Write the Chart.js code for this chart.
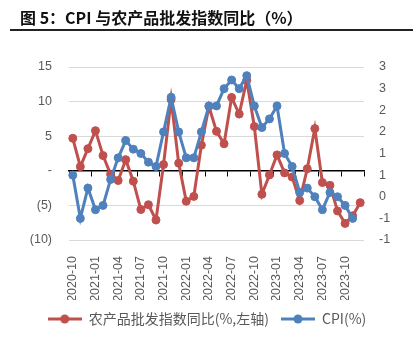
<!DOCTYPE html>
<html><head><meta charset="utf-8">
<script src="https://cdn.jsdelivr.net/npm/chart.js@4/dist/chart.umd.min.js"></script>
<style>
html,body{margin:0;padding:0;background:#fff;}
#wrap{position:relative;width:414px;height:352px;overflow:hidden;background:#fff;}
#title{position:absolute;left:20px;top:5px;font:bold 16px "Noto Sans CJK SC",sans-serif;color:#111;white-space:nowrap;}
#rule{position:absolute;left:10px;top:29px;width:403px;height:2px;background:#222;}
canvas{position:absolute;left:0;top:0;}
</style></head><body>
<div id="wrap"><canvas id="c" width="414" height="352"></canvas><div id="title">图 5：CPI 与农产品批发指数同比（%）</div><div id="rule"></div></div>
<script>
const categories = ['2020-10','2020-11','2020-12','2021-01','2021-02','2021-03','2021-04','2021-05','2021-06','2021-07','2021-08','2021-09','2021-10','2021-11','2021-12','2022-01','2022-02','2022-03','2022-04','2022-05','2022-06','2022-07','2022-08','2022-09','2022-10','2022-11','2022-12','2023-01','2023-02','2023-03','2023-04','2023-05','2023-06','2023-07','2023-08','2023-09','2023-10','2023-11','2023-12'];
const agriYoY = [4.7,0.6,3.2,5.8,2.2,-0.5,-1.4,1.6,-1.5,-5.6,-4.9,-7.1,0.9,10.3,1.1,-4.4,-3.7,3.7,9.3,5.7,3.9,10.6,8.2,13.1,6.4,-3.4,-0.6,2.3,-0.3,-0.9,-4.3,0.3,6.1,-1.7,-2.1,-5.8,-7.6,-6.5,-4.6];
const cpiYoY = [0.5,-0.5,0.2,-0.3,-0.2,0.4,0.9,1.3,1.1,1.0,0.8,0.7,1.5,2.3,1.5,0.9,0.9,1.5,2.1,2.1,2.5,2.7,2.5,2.8,2.1,1.6,1.8,2.1,1.0,0.7,0.1,0.2,0.0,-0.3,0.1,0.0,-0.2,-0.5];
const leftTickValues = [-10,-5,0,5,10,15];
const leftTickLabels = ['(10)','(5)','-','5','10','15'];
const rightTickValues = [-1,-0.5,0,0.5,1,1.5,2,2.5,3];
const rightTickLabels = ['-1','-1','0','1','1','2','2','3','3'];
const seriesNames = ['农产品批发指数同比(%,左轴)','CPI(%)'];

const RED = '#C0504D', BLUE = '#4F81BD', TXT = '#595959';
const tickFont = {family:'"Liberation Sans", Arial, sans-serif', size:12.5};

function legendIcon(color){
  const cv = document.createElement('canvas');
  cv.width = 34; cv.height = 10;
  const g = cv.getContext('2d');
  g.strokeStyle = color; g.lineWidth = 3;
  g.beginPath(); g.moveTo(0,5); g.lineTo(34,5); g.stroke();
  g.fillStyle = color; g.beginPath(); g.arc(17,5,4.5,0,Math.PI*2); g.fill();
  return cv;
}
const icons = [legendIcon(RED), legendIcon(BLUE)];

new Chart(document.getElementById('c'), {
  type:'line',
  data:{
    labels:categories,
    datasets:[
      {label:seriesNames[0], data:agriYoY, yAxisID:'y', xAxisID:'x', borderColor:RED, backgroundColor:RED,
       pointBackgroundColor:RED, pointBorderColor:RED, borderWidth:3, pointRadius:4, pointBorderWidth:1, pointHoverRadius:4, tension:0, order:1},
      {label:seriesNames[1], data:cpiYoY, yAxisID:'y1', xAxisID:'x', borderColor:BLUE, backgroundColor:BLUE,
       pointBackgroundColor:BLUE, pointBorderColor:BLUE, borderWidth:3, pointRadius:4, pointBorderWidth:1, pointHoverRadius:4, tension:0, order:0}
    ]
  },
  options:{
    responsive:false, animation:false, devicePixelRatio:1,
    layout:{padding:{top:67, bottom:16, left:0, right:0}},
    plugins:{
      tooltip:{enabled:false},
      legend:{
        position:'bottom',
        labels:{
          usePointStyle:true, pointStyleWidth:34, color:TXT, padding:12,
          font:{family:'"Noto Sans CJK SC", sans-serif', size:14},
          sort:(a,b)=>a.datasetIndex-b.datasetIndex,
          generateLabels:(chart)=>{
            const items = Chart.defaults.plugins.legend.labels.generateLabels(chart);
            items.forEach(it=>{ it.pointStyle = icons[it.datasetIndex]; });
            return items;
          }
        }
      }
    },
    scales:{
      x:{
        type:'category', position:'bottom', offset:true,
        grid:{display:false}, border:{display:false},
        ticks:{autoSkip:false, minRotation:90, maxRotation:90, color:TXT, font:tickFont, padding:8,
               callback:(v,i)=> i%3===0 ? categories[i] : ''},
        afterFit:(s)=>{ s.height = 60; }
      },
      x2:{
        type:'category', labels:categories, offset:true, position:{y:0},
        grid:{display:true, drawOnChartArea:false, drawTicks:true, tickLength:5, offset:true, lineWidth:1,
              color:(ctx)=> (ctx.index===undefined || ctx.index%3===0) ? '#000' : 'rgba(0,0,0,0)'},
        border:{display:true, color:'#000', width:1.5},
        ticks:{display:false}
      },
      y:{
        position:'left', min:-10, max:15,
        afterBuildTicks:(s)=>{ s.ticks = leftTickValues.map(v=>({value:v})); },
        ticks:{color:TXT, font:tickFont, padding:17,
               callback:(v)=>{ const k = leftTickValues.indexOf(v); return k>=0 ? leftTickLabels[k] : ''; }},
        grid:{color:'#D9D9D9', lineWidth:1, drawTicks:false},
        border:{display:false},
        afterFit:(s)=>{ s.width = 69; }
      },
      y1:{
        position:'right', min:-1, max:3,
        afterBuildTicks:(s)=>{ s.ticks = rightTickValues.map(v=>({value:v})); },
        ticks:{color:TXT, font:tickFont, padding:15,
               callback:(v)=>{ const k = rightTickValues.indexOf(v); return k>=0 ? rightTickLabels[k] : ''; }},
        grid:{display:false, drawTicks:false},
        border:{display:false},
        afterFit:(s)=>{ s.width = 50; }
      }
    }
  }
});
</script>
</body></html>
